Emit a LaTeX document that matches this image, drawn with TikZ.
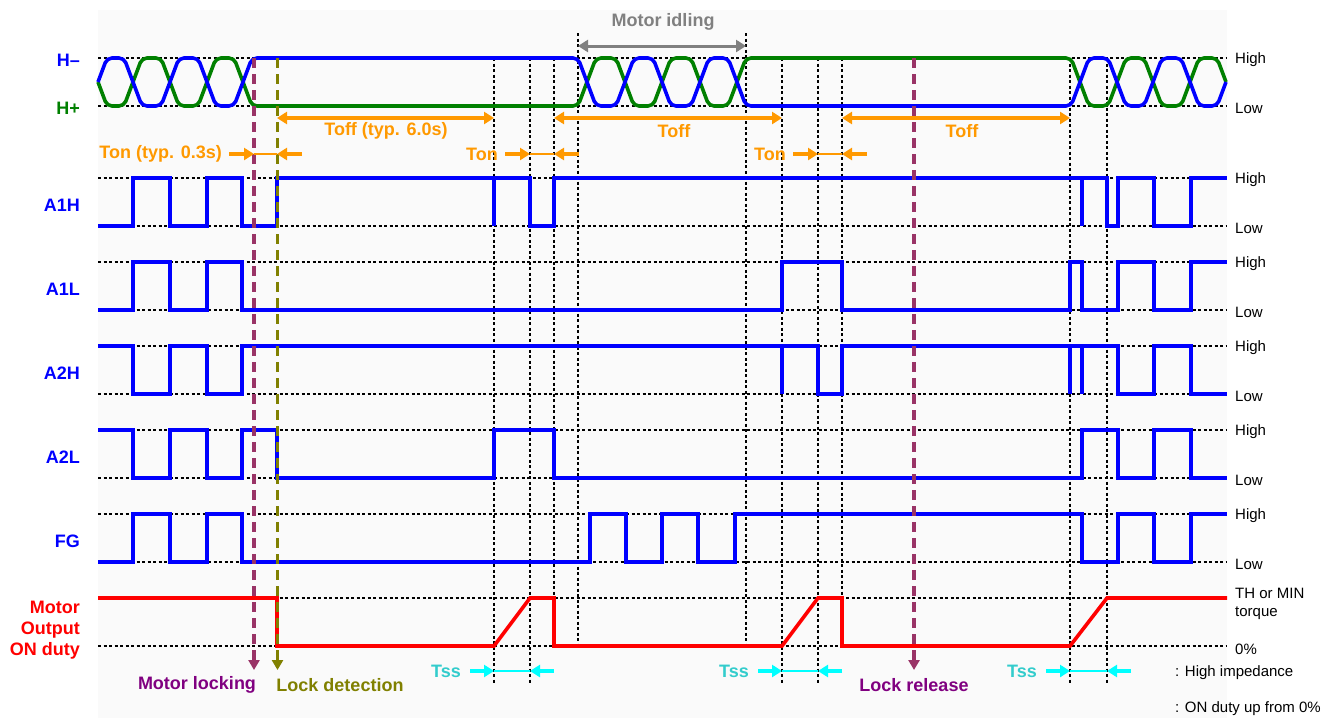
\documentclass[tikz,border=0pt]{standalone}
\usepackage{fontspec}
\setmainfont{Liberation Sans}
\usetikzlibrary{arrows.meta, positioning}

\definecolor{sigblue}{RGB}{0,0,255}
\definecolor{siggreen}{RGB}{0,128,0}
\definecolor{sigred}{RGB}{255,0,0}
\definecolor{tmorange}{RGB}{255,153,0}
\definecolor{tmcyan}{RGB}{0,255,255}
\definecolor{tsstext}{RGB}{51,204,204}
\definecolor{lockmag}{RGB}{153,51,102}
\definecolor{locktext}{RGB}{128,0,128}
\definecolor{detolive}{RGB}{128,128,0}
\definecolor{idlegray}{RGB}{128,128,128}
\definecolor{bggray}{RGB}{250,250,250}

\tikzset{
  wave/.style={line width=3.6pt},
  refline/.style={black, line width=1.1pt, dash pattern=on 3pt off 2.5pt},
  marker/.style={line width=3.6pt, dash pattern=on 10pt off 6pt, -{Triangle[width=11pt,length=10pt]}},
  dimtip/.style={line width=3.6pt, -{Triangle[width=12pt,length=10pt]}},
  dimline/.style={line width=1.4pt},
  dimboth/.style={line width=3.6pt, {Triangle[width=12pt,length=10pt]}-{Triangle[width=12pt,length=10pt]}},
  sig/.style={font=\fontsize{18}{21}\selectfont\bfseries},
  lvl/.style={font=\fontsize{15}{18}\selectfont, anchor=west}
}

\begin{document}
\begin{tikzpicture}[x=1pt, y=-1pt, every node/.style={inner sep=0pt}]
\useasboundingbox (0,0) rectangle (1343,718);
\fill [bggray] (98,10) rectangle (1227,718);

% reference levels
\foreach \t in {58,178,262,346,430,514,598} {
  \draw [refline] (98,\t) -- (1227,\t);
  \draw [refline] (98,\t+48) -- (1227,\t+48);
}
\foreach \x/\ya/\yb in {494/58/683, 530/58/683, 554/58/646, 578/33/646, 746/33/646,
                        782/58/683, 818/58/683, 842/58/646, 1070/58/683, 1107/58/683}
  \draw [refline] (\x,\ya) -- (\x,\yb);

% hall signals
\draw [wave, siggreen, rounded corners=5pt] (98,82) -- (107,106) -- (124,106) -- (142,58) -- (161,58)
  -- (179,106) -- (198,106) -- (216,58) -- (234,58) -- (252,106) -- (578,106) -- (596,58) -- (616,58)
  -- (634,106) -- (653,106) -- (671,58) -- (691,58) -- (709,106) -- (728,106) -- (746,58) -- (1071,58)
  -- (1089,106) -- (1108,106) -- (1126,58) -- (1144,58) -- (1162,106) -- (1181,106) -- (1199,58)
  -- (1217,58) -- (1226,82);
\draw [wave, sigblue, rounded corners=5pt] (98,82) -- (107,58) -- (124,58) -- (142,106) -- (161,106)
  -- (179,58) -- (198,58) -- (216,106) -- (234,106) -- (252,58) -- (578,58) -- (596,106) -- (616,106)
  -- (634,58) -- (653,58) -- (671,106) -- (691,106) -- (709,58) -- (728,58) -- (746,106) -- (1071,106)
  -- (1089,58) -- (1108,58) -- (1126,106) -- (1144,106) -- (1162,58) -- (1181,58) -- (1199,106)
  -- (1217,106) -- (1226,82);

% outputs
\begin{scope}[wave, sigblue]
\draw (98,226) -| (133,178) -| (170,226) -| (207,178) -| (242,226) -| (277,178) -| (530,226) -| (554,178)
  -| (1107,226) -| (1118,178) -| (1154,226) -| (1191,178) -- (1227,178);
\draw (494,178) -- (494,226) (1082,178) -- (1082,226);
\draw (98,310) -| (133,262) -| (170,310) -| (207,262) -| (242,310) -| (782,262) -| (842,310) -| (1070,262)
  -| (1082,310) -| (1118,262) -| (1154,310) -| (1191,262) -- (1227,262);
\draw (98,346) -| (133,394) -| (170,346) -| (207,394) -| (242,346) -| (818,394) -| (842,346) -| (1118,394)
  -| (1154,346) -| (1191,394) -- (1227,394);
\draw (782,346) -- (782,394) (1070,346) -- (1070,394) (1082,346) -- (1082,394);
\draw (98,430) -| (133,478) -| (170,430) -| (207,478) -| (242,430) -| (277,478) -| (494,430) -| (554,478)
  -| (1082,430) -| (1118,478) -| (1154,430) -| (1191,478) -- (1227,478);
\draw (98,562) -| (133,514) -| (170,562) -| (207,514) -| (242,562) -| (590,514) -| (626,562) -| (662,514)
  -| (698,562) -| (735,514) -| (1082,562) -| (1118,514) -| (1154,562) -| (1191,514) -- (1227,514);
\end{scope}
\draw [wave, sigred] (98,598) -| (277,646) -- (494,646) -- (530,598) -| (554,646) -- (782,646) -- (818,598)
  -| (842,646) -- (1070,646) -- (1107,598) -- (1227,598);

% lock events
\draw [marker, lockmag] (254,58) -- (254,670);
\draw [marker, detolive] (277.5,58) -- (277.5,670);
\draw [marker, lockmag] (914,58) -- (914,670);
\node [sig, locktext] (locking) at (197,685) {Motor locking};
\node [sig, detolive] (detect) at (340,685) {Lock detection};
\node [sig, locktext] (release) at (914,685) {Lock release};

% timing
\draw [dimboth, idlegray, line width=3pt] (578,46) -- (746,46);
\node [sig, idlegray] (idling) at (663,22) {Motor idling};
\draw [dimboth, tmorange] (277,118) -- (494,118);
\draw [dimboth, tmorange] (554,118) -- (782,118);
\draw [dimboth, tmorange] (842,118) -- (1070,118);
\node [sig, tmorange] (toffA) at (386,131) {Toff (typ. 6.0s)};
\node [sig, tmorange] (toffB) at (674,131) {Toff};
\node [sig, tmorange] (toffC) at (962,131) {Toff};
\foreach \l/\r/\txt/\nm in {254/277/{Ton (typ. 0.3s)}/tonA, 530/554/Ton/tonB, 818/842/Ton/tonC} {
  \draw [dimtip, tmorange] (\l-25,154) -- (\l,154);
  \draw [dimline, tmorange] (\l,154) -- (\r,154);
  \draw [dimtip, tmorange] (\r+25,154) -- (\r,154);
  \node [sig, tmorange, anchor=east] (\nm) at (\l-32,154) {\txt};
}
\foreach \l/\r/\nm in {494/530/tssA, 782/818/tssB, 1070/1107/tssC} {
  \draw [dimtip, tmcyan] (\l-24,671) -- (\l,671);
  \draw [dimline, tmcyan] (\l,671) -- (\r,671);
  \draw [dimtip, tmcyan] (\r+24,671) -- (\r,671);
  \node [sig, tsstext, anchor=east] (\nm) at (\l-33,671) {Tss};
}

% signal names
\node [sig, sigblue, anchor=east] (hminus) at (80,60) {H–};
\node [sig, siggreen, anchor=east] (hplus) at (80,108) {H+};
\foreach \t/\name/\nm in {178/A1H/aoh, 262/A1L/aol, 346/A2H/ath, 430/A2L/atl, 514/FG/fg}
  \node [sig, sigblue, anchor=east] (lbl\nm) at (80,\t+27) {\name};
\node [sig, sigred, anchor=east, align=right] (lblmotor) at (80,630) {Motor\\Output\\ON duty};

% levels
\foreach \t/\nm in {58/h, 178/aoh, 262/aol, 346/ath, 430/atl, 514/fg} {
  \node [lvl] (hi\nm) at (1235,\t+2) {High};
  \node [lvl] (lo\nm) at (1235,\t+50) {Low};
}
\node [lvl, align=left] (thmin) at (1235,604) {TH or MIN\\torque};
\node [lvl] (zero) at (1235,649) {0\%};
\node [lvl] (hiz) at (1175,673) {: High impedance};
\node [lvl] (dutyup) at (1175,709) {: ON duty up from 0\%};
\end{tikzpicture}
\end{document}
